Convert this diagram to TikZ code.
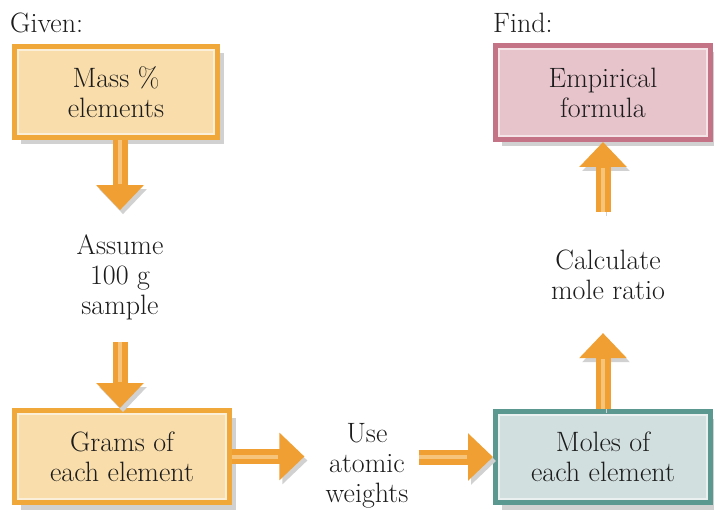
\documentclass[tikz,border=0pt]{standalone}
\usetikzlibrary{arrows.meta, positioning, calc, shadows}
\definecolor{corange}{HTML}{F1A83A}
\definecolor{corangefill}{HTML}{F9DDAB}
\definecolor{cpink}{HTML}{C47386}
\definecolor{cpinkfill}{HTML}{E7C3CB}
\definecolor{cteal}{HTML}{5B9890}
\definecolor{ctealfill}{HTML}{D2DFDF}
\definecolor{carrow}{HTML}{F0A032}
\definecolor{carrowlight}{HTML}{F7C47C}
\definecolor{ctext}{HTML}{1C1C1C}
\tikzset{
  every picture/.style={font=\fontsize{28}{30}\selectfont, text=ctext},
  box/.style={draw=#1, fill=#1fill, line width=5pt, align=center, inner sep=0pt,
    drop shadow={shadow xshift=6pt, shadow yshift=-7pt, fill=black!40, opacity=.45}},
  box/.default=corange,
  inner line/.style={draw=white, line width=1.6pt, opacity=.55},
  note/.style={align=center, inner sep=0pt},
  fatarrow/.style 2 args={line width=15pt, draw=carrow, shorten <=#1, shorten >=#2,
    -{Triangle[length=25pt, width=46pt]},
    preaction={draw=black!18, transform canvas={shift={(3pt,-4pt)}}},
    postaction={draw=carrowlight, line width=4pt, -, shorten >=#2+26pt}},
}
\begin{document}
\begin{tikzpicture}[x=1pt, y=-1pt]
  \useasboundingbox[fill=white] (0,0) rectangle (714,510);
  % titles
  \node[anchor=base west, inner sep=0pt] (given) at (10,33) {Given:};
  \node[anchor=base west, inner sep=0pt] (find) at (493,33) {Find:};
  % boxes
  \node[box=corange, minimum width=203pt, minimum height=91pt] (mass) at (116,92) {Mass \%\\elements};
  \node[box=corange, minimum width=215pt, minimum height=92pt] (grams) at (122,456.5) {Grams of\\each element};
  \node[box=cpink, minimum width=215pt, minimum height=94pt] (empirical) at (603,92.5) {Empirical\\formula};
  \node[box=cteal, minimum width=215pt, minimum height=91pt] (moles) at (603,457) {Moles of\\each element};
  \foreach \n in {mass, grams, empirical, moles}
    \draw[inner line] ([shift={(6pt,-6pt)}]\n.north west) rectangle ([shift={(-6pt,6pt)}]\n.south east);
  % steps between boxes
  \node[note] (assume) at (120,277) {Assume\\100 g\\sample};
  \node[note] (atomic) at (367,466) {Use\\atomic\\weights};
  \node[note] (ratio) at (608,275) {Calculate\\mole ratio};
  % arrows
  \draw[fatarrow={0pt}{24pt}] (mass.south -| assume) -- (assume.north);
  \draw[fatarrow={22pt}{0pt}] (assume.south) -- (assume.south |- grams.north);
  \draw[fatarrow={0pt}{21pt}] (grams.east) -- (grams.east -| atomic.west);
  \draw[fatarrow={10pt}{0pt}] (atomic.east |- moles.west) -- (moles.west);
  \draw[fatarrow={0pt}{33pt}] (moles.north) -- (moles.north |- ratio.south);
  \draw[fatarrow={38pt}{0pt}] (empirical.south |- ratio.north) -- (empirical.south);
\end{tikzpicture}
\end{document}
